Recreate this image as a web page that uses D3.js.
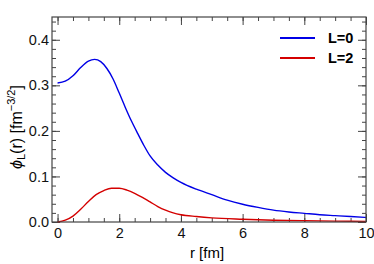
<!DOCTYPE html>
<meta charset="utf-8" />
<style>
  body {
    margin: 0px;
    padding: 0px;
    background: #fff;
  }
  svg {
    display: block;
    font-family: "Liberation Sans", Arial, sans-serif;
  }
  .frame {
    fill: none;
    stroke: #444;
    stroke-width: 1.2px;
  }
  .axis path {
    display: none;
  }
  .axis line {
    stroke: #444;
    stroke-width: 1px;
  }
  .axis text {
    font-size: 14.5px;
    fill: #111;
  }
</style>

<svg width="374" height="264"></svg>

<script src="https://d3js.org/d3.v7.min.js"></script>
<script>
  // radial wave functions
  const r0 = [0, 0.25, 0.5, 0.75, 1.0, 1.2, 1.4, 1.6, 1.8, 2.0, 2.2, 2.4, 2.6, 2.8, 3.0, 3.25, 3.5, 3.75, 4.0, 4.5, 5.0, 5.5, 6.0, 6.5, 7.0, 7.5, 8.0, 8.5, 9.0, 9.5, 10];
  const phiL0 = [0.305, 0.309, 0.321, 0.339, 0.353, 0.357, 0.352, 0.337, 0.314, 0.283, 0.251, 0.221, 0.194, 0.168, 0.145, 0.125, 0.109, 0.097, 0.087, 0.072, 0.06, 0.048, 0.039, 0.032, 0.026, 0.022, 0.019, 0.016, 0.014, 0.012, 0.01];

  const r2 = [0, 0.25, 0.5, 0.75, 1.0, 1.25, 1.5, 1.75, 2.0, 2.25, 2.5, 2.75, 3.0, 3.25, 3.5, 3.75, 4.0, 4.5, 5.0, 6.0, 7.0, 8.0, 9.0, 10];
  const phiL2 = [0, 0.004, 0.013, 0.028, 0.045, 0.06, 0.069, 0.074, 0.074, 0.07, 0.063, 0.054, 0.044, 0.034, 0.026, 0.02, 0.016, 0.012, 0.009, 0.006, 0.004, 0.003, 0.002, 0.001];

  const seriesNames = ["L=0", "L=2"];
  const seriesColors = ["#0000e6", "#d40000"];

  const xMajor = [0, 2, 4, 6, 8, 10];
  const yMajor = [0, 0.1, 0.2, 0.3, 0.4];

  const svg = d3.select("svg");
  const mLeft = 52, mRight = 366, mTop = 17, mBottom = 222;

  const x = d3.scaleLinear().domain([-0.18, 10]).range([mLeft, mRight]);
  const y = d3.scaleLinear().domain([0, 0.45]).range([mBottom, mTop]);

  const xMinor = d3.range(0, 10.01, 0.5);
  const yMinor = d3.range(0, 0.451, 0.02);

  // minor ticks on all four sides
  svg.append("g").attr("class", "axis").attr("transform", `translate(0,${mBottom})`)
    .call(d3.axisBottom(x).tickValues(xMinor).tickSize(-4).tickFormat(""));
  svg.append("g").attr("class", "axis").attr("transform", `translate(0,${mTop})`)
    .call(d3.axisTop(x).tickValues(xMinor).tickSize(-4).tickFormat(""));
  svg.append("g").attr("class", "axis").attr("transform", `translate(${mLeft},0)`)
    .call(d3.axisLeft(y).tickValues(yMinor).tickSize(-4).tickFormat(""));
  svg.append("g").attr("class", "axis").attr("transform", `translate(${mRight},0)`)
    .call(d3.axisRight(y).tickValues(yMinor).tickSize(-4).tickFormat(""));

  // major ticks
  svg.append("g").attr("class", "axis").attr("transform", `translate(0,${mBottom})`)
    .call(d3.axisBottom(x).tickValues(xMajor).tickSize(-8).tickPadding(6).tickFormat(d3.format("d")));
  svg.append("g").attr("class", "axis").attr("transform", `translate(0,${mTop})`)
    .call(d3.axisTop(x).tickValues(xMajor).tickSize(-8).tickFormat(""));
  svg.append("g").attr("class", "axis").attr("transform", `translate(${mLeft},0)`)
    .call(d3.axisLeft(y).tickValues(yMajor).tickSize(-8).tickPadding(3).tickFormat(d3.format(".1f")));
  svg.append("g").attr("class", "axis").attr("transform", `translate(${mRight},0)`)
    .call(d3.axisRight(y).tickValues(yMajor).tickSize(-8).tickFormat(""));

  // curves
  const line = d3.line()
    .x((d) => x(d[0]))
    .y((d) => y(d[1]))
    .curve(d3.curveMonotoneX);

  const series = [d3.zip(r0, phiL0), d3.zip(r2, phiL2)];

  svg.append("g")
    .selectAll("path")
    .data(series)
    .enter()
    .append("path")
    .attr("d", line)
    .attr("fill", "none")
    .attr("stroke", (d, i) => seriesColors[i])
    .attr("stroke-width", 1.4);

  svg.append("rect")
    .attr("class", "frame")
    .attr("x", mLeft)
    .attr("y", mTop)
    .attr("width", mRight - mLeft)
    .attr("height", mBottom - mTop);

  // legend
  const legend = svg.append("g")
    .selectAll("g")
    .data(seriesNames)
    .enter()
    .append("g")
    .attr("transform", (d, i) => `translate(280,${38 + i * 20})`);

  legend.append("line")
    .attr("x1", 0)
    .attr("x2", 35)
    .attr("stroke", (d, i) => seriesColors[i])
    .attr("stroke-width", 2.2);

  legend.append("text")
    .attr("x", 48)
    .attr("dy", "0.36em")
    .attr("font-size", 14.5)
    .attr("font-weight", "bold")
    .text((d) => d);

  // axis titles
  svg.append("text")
    .attr("x", 207)
    .attr("y", 258)
    .attr("text-anchor", "middle")
    .attr("font-size", 15)
    .text("r [fm]");

  const ylab = svg.append("text")
    .attr("transform", "translate(22,127) rotate(-90)")
    .attr("text-anchor", "middle")
    .attr("font-size", 16);
  ylab.append("tspan").attr("font-style", "italic").text("ϕ");
  ylab.append("tspan").attr("font-size", 11).attr("dy", 3).text("L");
  ylab.append("tspan").attr("dy", -3).text("(r) [fm");
  ylab.append("tspan").attr("font-size", 11).attr("dy", -7).text("−3/2");
  ylab.append("tspan").attr("dy", 7).text("]");
</script>
